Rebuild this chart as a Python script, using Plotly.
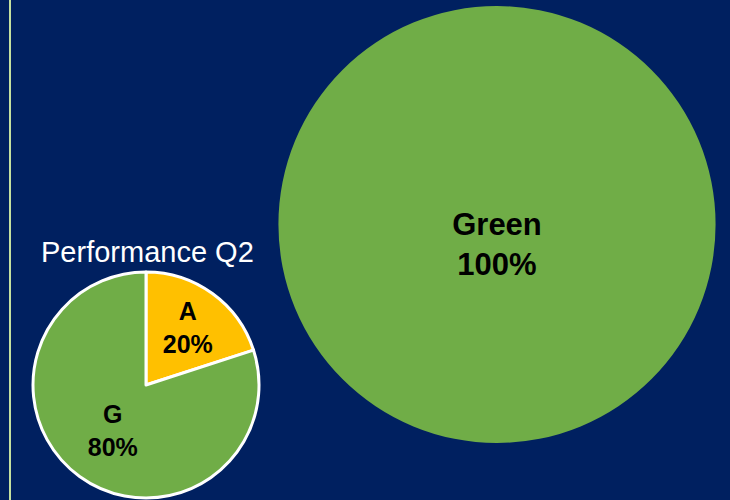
import plotly.graph_objects as go

# Data
q2_labels = ["A", "G"]
q2_values = [20, 80]
q2_colors = ["#FFC000", "#70AD47"]

overall_labels = ["Green"]
overall_values = [100]
overall_colors = ["#70AD47"]

title_text = "Performance Q2"

BG = "#002060"
W, H = 730, 500

fig = go.Figure()

fig.add_trace(go.Pie(
    labels=overall_labels, values=overall_values,
    marker=dict(colors=overall_colors, line=dict(width=0)),
    domain=dict(x=[278.5 / W, 715.5 / W], y=[(H - 443) / H, (H - 6) / H]),
    sort=False, direction="clockwise", rotation=0,
    texttemplate=" <br>%{label}<br>%{percent:.0%}",
    textposition="inside", insidetextorientation="horizontal",
    textfont=dict(family="Liberation Sans, Arial", size=31, color="black", weight="bold"),
    hoverinfo="skip", showlegend=False,
))

fig.add_trace(go.Pie(
    labels=q2_labels, values=q2_values,
    marker=dict(colors=q2_colors, line=dict(color="white", width=3)),
    domain=dict(x=[33 / W, 259 / W], y=[(H - 498) / H, (H - 272) / H]),
    sort=False, direction="clockwise", rotation=0,
    texttemplate="%{label}<br>%{percent:.0%}",
    textposition="inside", insidetextorientation="horizontal",
    textfont=dict(family="Liberation Sans, Arial", size=25, color="black", weight="bold"),
    hoverinfo="skip", showlegend=False,
))

fig.add_annotation(
    text=title_text, x=147 / W, y=(H - 252) / H, xref="paper", yref="paper",
    xanchor="center", yanchor="middle", showarrow=False,
    font=dict(family="Liberation Sans, Arial", size=29, color="white"),
)

fig.add_shape(type="line", xref="paper", yref="paper",
              x0=10 / W, x1=10 / W, y0=0, y1=1,
              line=dict(color="#C5E0A0", width=2))

fig.update_layout(
    width=W, height=H,
    margin=dict(l=0, r=0, t=0, b=0),
    paper_bgcolor=BG, plot_bgcolor=BG,
    uniformtext=dict(mode=False),
)

fig.write_html("out.html", config=dict(displayModeBar=False))
